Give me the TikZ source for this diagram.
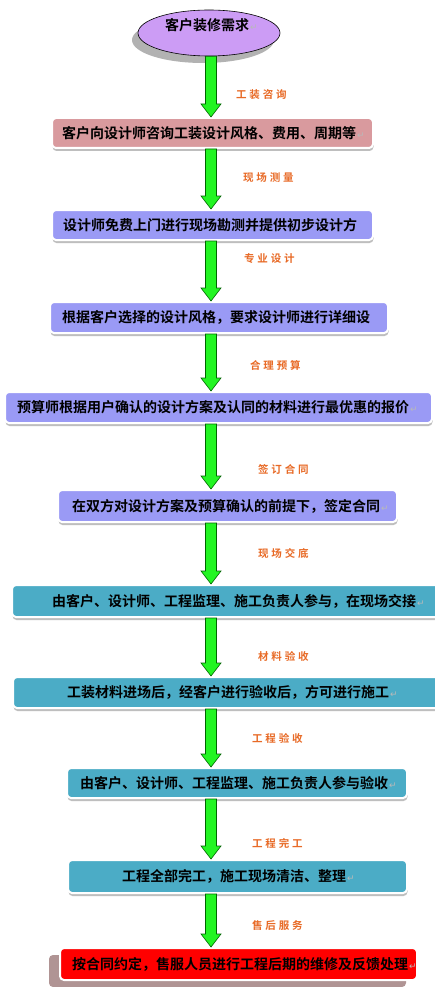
\documentclass[tikz,border=0pt]{standalone}
\usepackage{fontspec}
\newfontfamily\cjk{Noto Sans CJK SC}
\newfontfamily\cjkb{Noto Sans CJK SC Bold}
\newfontfamily\dvs{DejaVu Sans}
\usetikzlibrary{shapes.geometric,shadows,calc}
\definecolor{pinkbox}{HTML}{D99A9E}
\definecolor{bluebox}{HTML}{9A9AF5}
\definecolor{tealbox}{HTML}{4BACC6}
\definecolor{redbox}{HTML}{FF0000}
\definecolor{lblcol}{HTML}{E86A26}
\definecolor{arrowgreen}{HTML}{22F522}
\definecolor{ellfill}{HTML}{CC9CF5}
\definecolor{brownshadow}{HTML}{B09494}
\newcommand\retmark{\hspace{1pt}{\dvs\fontsize{9}{9}\selectfont\color{gray!55}↵}}
\newcommand\fourch[4]{#1\hspace{2.8pt}#2\hspace{2.8pt}#3\hspace{2.8pt}#4}
\tikzset{
  stepbox/.style={rectangle, rounded corners=4pt, draw=white, line width=2pt, inner sep=0pt,
    drop shadow={shadow xshift=0.5pt, shadow yshift=-3pt, fill=gray!85, opacity=0.6}},
  boxtext/.style={anchor=west, inner sep=0pt, font=\cjkb\fontsize{14}{16}\selectfont},
  lbltext/.style={anchor=west, inner sep=0pt, text=lblcol, font=\cjkb\fontsize{10.5}{12}\selectfont},
  garrow/.style={fill=arrowgreen, draw=black!60!green, line width=0.6pt, line join=miter}
}
\newcommand\blockarrow[2]{%
  \draw[garrow] let \p0=(ax), \p1=(#1.south), \p2=(#2.north) in
    (\x0-5.5pt,\y1) -- (\x0-5.5pt,\y2+13pt) -- (\x0-10pt,\y2+13pt) -- (\x0,\y2)
    -- (\x0+10pt,\y2+13pt) -- (\x0+5.5pt,\y2+13pt) -- (\x0+5.5pt,\y1) -- cycle;}
\begin{document}
\begin{tikzpicture}[x=1pt,y=-1pt]
\useasboundingbox[fill=white] (0,0) rectangle (434,987);
\coordinate (ax) at (211,0);

% start ellipse
\node[ellipse, draw=black, line width=0.6pt, fill=ellfill, minimum width=142pt, minimum height=46pt,
  drop shadow={shadow xshift=-6pt, shadow yshift=-7pt, fill=gray!75, opacity=0.8}] (e) at (209,33) {};
\node[boxtext] (et) at (165,25) {客户装修需求\retmark};

% boxes
\node[stepbox, fill=pinkbox, minimum width=321pt, minimum height=30pt] (b1) at (212.5,133) {};
\node[stepbox, fill=bluebox, minimum width=321pt, minimum height=30pt] (b2) at (212.5,225) {};
\node[stepbox, fill=bluebox, minimum width=338pt, minimum height=31pt] (b3) at (219,317.5) {};
\node[stepbox, fill=bluebox, minimum width=427pt, minimum height=31pt] (b4) at (218.5,407.5) {};
\node[stepbox, fill=bluebox, minimum width=339pt, minimum height=32pt] (b5) at (227.5,506) {};
\node[stepbox, fill=tealbox, minimum width=433pt, minimum height=32pt] (b6) at (228.5,601) {};
\node[stepbox, fill=tealbox, minimum width=432pt, minimum height=31pt] (b7) at (229,692.5) {};
\node[stepbox, fill=tealbox, minimum width=340pt, minimum height=30pt] (b8) at (237,783) {};
\node[stepbox, fill=tealbox, minimum width=339pt, minimum height=33pt] (b9) at (237.5,876.5) {};
\node[rectangle, rounded corners=4pt, draw=white, line width=2pt, inner sep=0pt, fill=redbox,
  minimum width=357pt, minimum height=32pt,
  drop shadow={shadow xshift=-11pt, shadow yshift=-7pt, fill=brownshadow, opacity=1}] (b10) at (238.5,964) {};

% box texts
\node[boxtext] (t1) at (62,133) {客户向设计师咨询工装设计风格、费用、周期等\retmark};
\node[boxtext] (t2) at (63,225) {设计师免费上门进行现场勘测并提供初步设计方};
\node[boxtext] (t3) at (62,317.5) {根据客户选择的设计风格，要求设计师进行详细设};
\node[boxtext] (t4) at (17,407.5) {预算师根据用户确认的设计方案及认同的材料进行最优惠的报价\retmark};
\node[boxtext] (t5) at (72,506) {在双方对设计方案及预算确认的前提下，签定合同\retmark};
\node[boxtext] (t6) at (52,601) {由客户、设计师、工程监理、施工负责人参与，在现场交接\retmark};
\node[boxtext] (t7) at (67,692.5) {工装材料进场后，经客户进行验收后，方可进行施工\retmark};
\node[boxtext] (t8) at (80,783) {由客户、设计师、工程监理、施工负责人参与验收\retmark};
\node[boxtext] (t9) at (122,876.5) {工程全部完工，施工现场清洁、整理\retmark};
\node[boxtext] (t10) at (72,964) {按合同约定，售服人员进行工程后期的维修及反馈处理\retmark};

% arrows
\blockarrow{e}{b1}
\blockarrow{b1}{b2}
\blockarrow{b2}{b3}
\blockarrow{b3}{b4}
\blockarrow{b4}{b5}
\blockarrow{b5}{b6}
\blockarrow{b6}{b7}
\blockarrow{b7}{b8}
\blockarrow{b8}{b9}
\blockarrow{b9}{b10}

% labels
\node[lbltext] (l1) at (236,95) {\fourch{工}{装}{咨}{询}};
\node[lbltext] (l2) at (243,178) {\fourch{现}{场}{测}{量}};
\node[lbltext] (l3) at (244,259) {\fourch{专}{业}{设}{计}};
\node[lbltext] (l4) at (250,365) {\fourch{合}{理}{预}{算}};
\node[lbltext] (l5) at (258,469) {\fourch{签}{订}{合}{同}};
\node[lbltext] (l6) at (258,553) {\fourch{现}{场}{交}{底}};
\node[lbltext] (l7) at (258,656) {\fourch{材}{料}{验}{收}};
\node[lbltext] (l8) at (252,738) {\fourch{工}{程}{验}{收}};
\node[lbltext] (l9) at (252,843) {\fourch{工}{程}{完}{工}};
\node[lbltext] (l10) at (252,925) {\fourch{售}{后}{服}{务}};
\end{tikzpicture}
\end{document}
